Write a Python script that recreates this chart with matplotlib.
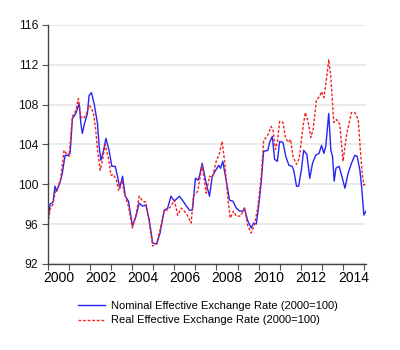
import matplotlib
matplotlib.use("Agg")
import matplotlib.pyplot as plt
import numpy as np

# values (decimal years, index 2000=100)
neer_years = [2000.00, 2000.10, 2000.24, 2000.33, 2000.41, 2000.56, 2000.68, 2000.81, 2000.92,
              2001.05, 2001.16, 2001.32, 2001.48, 2001.56, 2001.63, 2001.71, 2001.87, 2001.95,
              2002.06, 2002.19, 2002.35, 2002.43, 2002.51, 2002.63, 2002.75, 2002.90,
              2003.03, 2003.19, 2003.30, 2003.41, 2003.54, 2003.67, 2003.82,
              2004.01, 2004.18, 2004.33, 2004.49, 2004.65, 2004.81, 2004.97,
              2005.16, 2005.32, 2005.52, 2005.68, 2005.84,
              2006.00, 2006.24, 2006.48, 2006.71, 2006.86,
              2007.00, 2007.12, 2007.19, 2007.32, 2007.51, 2007.67, 2007.80, 2007.99,
              2008.11, 2008.19, 2008.30, 2008.46, 2008.62, 2008.78, 2008.94,
              2009.10, 2009.25, 2009.33, 2009.49, 2009.65, 2009.76, 2009.89,
              2010.01, 2010.13, 2010.24, 2010.44, 2010.52, 2010.65, 2010.76, 2010.89,
              2011.00, 2011.16, 2011.29, 2011.44, 2011.59, 2011.67, 2011.80, 2011.90,
              2012.03, 2012.14, 2012.29, 2012.43, 2012.56, 2012.71, 2012.87, 2012.99,
              2013.10, 2013.19, 2013.33, 2013.43, 2013.51, 2013.59, 2013.67, 2013.82, 2013.94,
              2014.10, 2014.25, 2014.41, 2014.57, 2014.68, 2014.81, 2014.89, 2015.00, 2015.10]
neer = [96.4, 98.0, 98.2, 99.8, 99.3, 100.1, 101.1, 102.9, 102.9,
        103.1, 106.6, 107.1, 108.1, 106.1, 105.1, 105.9, 107.1, 108.9,
        109.2, 108.1, 106.1, 103.8, 102.4, 103.3, 104.6, 103.4,
        101.8, 101.8, 100.8, 99.6, 100.8, 98.8, 98.3,
        95.8, 96.8, 98.1, 97.8, 97.9, 96.4, 94.1,
        94.0, 95.1, 97.4, 97.6, 98.8,
        98.3, 98.8, 98.1, 97.4, 97.4,
        100.6, 100.4, 100.8, 102.1, 100.1, 98.8, 100.8, 101.5,
        101.9, 101.6, 102.3, 100.4, 98.4, 98.3, 97.6,
        97.3, 97.3, 97.6, 96.3, 95.6, 96.1, 96.0,
        97.9, 100.4, 103.3, 103.4, 104.2, 104.8, 102.5, 102.3,
        104.3, 104.2, 102.8, 101.9, 101.8, 101.4, 99.8, 99.8,
        101.4, 103.4, 103.0, 100.6, 102.1, 102.9, 103.1, 103.9,
        103.1, 103.8, 107.1, 103.4, 102.8, 100.3, 101.6, 101.8, 100.9,
        99.6, 101.1, 102.1, 102.9, 102.8, 101.4, 99.8, 96.9, 97.3]

reer_years = [2000.00, 2000.10, 2000.24, 2000.33, 2000.43, 2000.60, 2000.76, 2000.90,
              2001.00, 2001.16, 2001.32, 2001.44, 2001.56, 2001.68, 2001.80, 2001.95,
              2002.05, 2002.16, 2002.27, 2002.35, 2002.48, 2002.59, 2002.71, 2002.87, 2002.99,
              2003.10, 2003.25, 2003.35, 2003.51, 2003.62, 2003.70, 2003.82,
              2004.01, 2004.18, 2004.33, 2004.49, 2004.65, 2004.81, 2004.97,
              2005.16, 2005.32, 2005.52, 2005.68, 2005.84,
              2006.00, 2006.16, 2006.33, 2006.56, 2006.80, 2006.90,
              2007.11, 2007.32, 2007.40, 2007.51, 2007.67, 2007.81, 2007.99,
              2008.14, 2008.27, 2008.38, 2008.54, 2008.65, 2008.81, 2008.94,
              2009.14, 2009.33, 2009.49, 2009.65, 2009.81, 2009.97,
              2010.13, 2010.24, 2010.41, 2010.60, 2010.69, 2010.80, 2010.89,
              2011.00, 2011.16, 2011.27, 2011.40, 2011.52, 2011.63, 2011.80, 2011.93,
              2012.11, 2012.22, 2012.35, 2012.48, 2012.59, 2012.75, 2012.90, 2012.99,
              2013.10, 2013.22, 2013.33, 2013.43, 2013.49, 2013.57, 2013.70, 2013.86,
              2014.01, 2014.18, 2014.41, 2014.57, 2014.73, 2014.81, 2014.92, 2015.00, 2015.10]
reer = [96.0, 97.5, 98.0, 99.1, 99.5, 100.5, 103.4, 103.0,
        102.8, 106.8, 107.4, 108.6, 106.8, 106.6, 106.9, 107.9,
        107.7, 107.1, 105.4, 103.4, 101.4, 102.4, 104.0, 102.6, 100.9,
        101.0, 100.4, 99.4, 100.4, 99.1, 98.6, 97.8,
        95.6, 96.9, 98.8, 98.3, 98.2, 96.1, 93.8,
        94.0, 95.4, 97.4, 97.4, 97.8,
        98.4, 96.9, 97.6, 97.1, 96.1, 98.8,
        99.3, 101.9, 100.8, 99.1, 100.8, 100.7, 102.3,
        103.1, 104.3, 102.4, 98.6, 96.6, 97.3, 96.8,
        96.8, 97.6, 95.8, 95.1, 96.0, 97.8,
        100.9, 104.4, 104.8, 105.8, 105.4, 103.5, 104.2,
        106.3, 106.2, 104.7, 104.2, 104.5, 102.8, 102.0, 102.6,
        105.8, 107.2, 106.3, 104.7, 105.5, 108.5, 108.8, 109.3,
        108.7, 110.5, 112.5, 110.8, 108.8, 106.2, 106.5, 106.0,
        102.3, 105.0, 107.2, 107.2, 106.5, 104.1, 101.1, 99.9, 100.1]

year_labels = ["2000", "2002", "2004", "2006", "2008", "2010", "2012", "2014"]
y_ticks = [92, 96, 100, 104, 108, 112, 116]

plt.rcParams["font.family"] = ["Liberation Sans", "DejaVu Sans"]

fig = plt.figure(figsize=(4.0, 3.5), dpi=100)
ax = fig.add_axes([0.12, 0.246, 0.795, 0.683])

ax.plot(neer_years, neer, color="#2626f2", lw=1.0,
        label="Nominal Effective Exchange Rate (2000=100)")
ax.plot(reer_years, reer, color="#f22222", lw=1.0, ls=(0, (2.0, 1.3)),
        label="Real Effective Exchange Rate (2000=100)")

ax.set_xlim(2000, 2015.1)
ax.set_ylim(92, 116)
ax.set_yticks(y_ticks)
ax.yaxis.grid(True, color="#e8e8e8", lw=1.3)
ax.set_axisbelow(True)

# year ticks at boundaries, labels centred on the year
ax.set_xticks(np.arange(2000, 2016))
ax.set_xticklabels([])
ax.set_xticks([int(s) + 0.5 for s in year_labels], minor=True)
ax.set_xticklabels(year_labels, minor=True)
ax.tick_params(axis="x", which="minor", length=0, pad=5)
ax.tick_params(axis="x", which="major", length=4, color="#555555")
ax.tick_params(axis="y", length=4, color="#555555", pad=3)
ax.tick_params(labelsize=8.8, labelcolor="#111111")

for side in ["top", "right"]:
    ax.spines[side].set_visible(False)
for side in ["left", "bottom"]:
    ax.spines[side].set_color("#444444")
    ax.spines[side].set_linewidth(1.0)

fig.legend(loc="center", bbox_to_anchor=(0.52, 0.105), frameon=False,
           fontsize=8, handlelength=2.4, labelspacing=0.4, handletextpad=0.5)

fig.savefig("out.png", dpi=100)
